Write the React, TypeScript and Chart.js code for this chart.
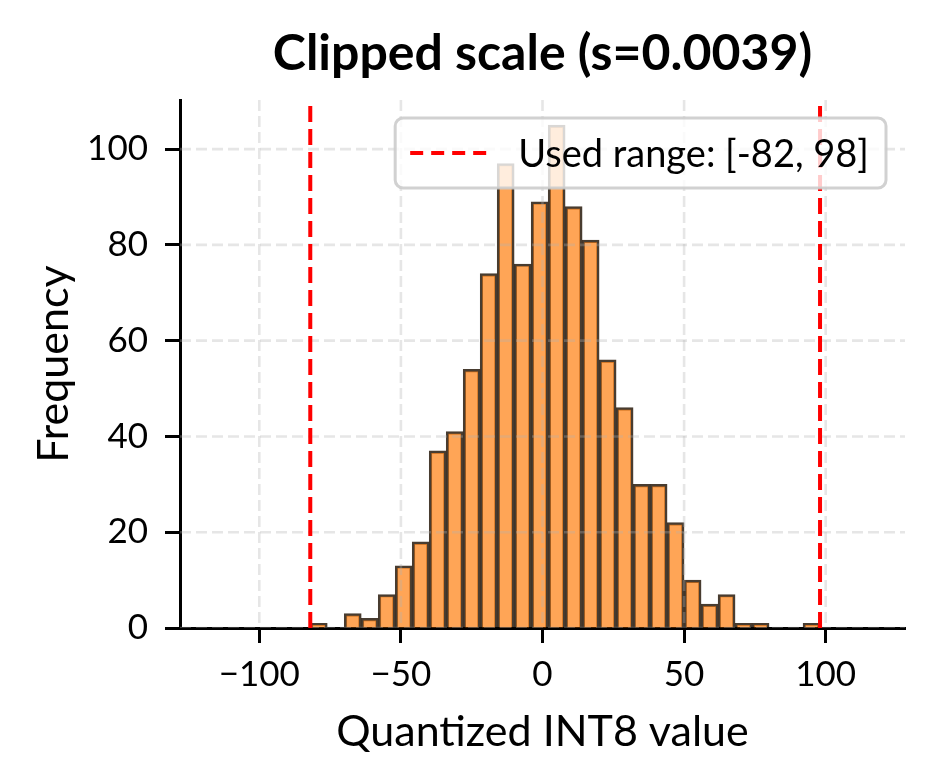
import React, { useEffect, useRef } from 'react';
import { Chart, registerables } from 'chart.js';

Chart.register(...registerables);

// ---- data ----
const binStarts = [-82, -76, -70, -64, -58, -52, -46, -40, -34, -28, -22, -16, -10, -4, 2, 8, 14, 20, 26, 32, 38, 44, 50, 56, 62, 68, 74, 80, 86, 92];
const binWidth = 6;
const counts = [1, 0, 3, 2, 7, 13, 18, 37, 41, 54, 74, 97, 76, 89, 105, 88, 81, 56, 46, 30, 30, 22, 10, 5, 7, 1, 1, 0, 0, 1];
const usedRange = [-82, 98];
const xTicks = [-100, -50, 0, 50, 100];
const yTicks = [0, 20, 40, 60, 80, 100];
const xLimits = [-128, 128];
const yLimits = [0, 110.25];
const titleText = 'Clipped scale (s=0.0039)';
const xLabel = 'Quantized INT8 value';
const yLabel = 'Frequency';
const legendLabel = `Used range: [${usedRange[0]}, ${usedRange[1]}]`;

const FONT = 'Lato';
const W = 934;
const H = 784;

const fmtTick = (v: number) => (v < 0 ? '\u2212' + Math.abs(v) : String(v));

const gridOverBars = {
  id: 'gridOverBars',
  afterDatasetDraw(chart: any, args: any) {
    if (args.meta.type !== 'bar') return;
    const { ctx, chartArea: a, scales } = chart;
    const x = scales.x;
    const y = scales.y;
    ctx.save();
    ctx.beginPath();
    ctx.rect(a.left, a.top, a.right - a.left, a.bottom - a.top);
    ctx.clip();
    ctx.strokeStyle = 'rgba(176,176,176,0.32)';
    ctx.lineWidth = 2.6;
    ctx.setLineDash([11, 5]);
    for (const v of yTicks) {
      const py = y.getPixelForValue(v);
      ctx.beginPath();
      ctx.moveTo(a.left, py);
      ctx.lineTo(a.right, py);
      ctx.stroke();
    }
    for (const v of xTicks) {
      const px = x.getPixelForValue(v);
      ctx.beginPath();
      ctx.moveTo(px, a.top);
      ctx.lineTo(px, a.bottom);
      ctx.stroke();
    }
    ctx.restore();
  },
};

const titleAndLegend = {
  id: 'titleAndLegend',
  afterDraw(chart: any) {
    const { ctx, chartArea: a } = chart;
    ctx.save();
    // title
    const tSize = 50;
    ctx.font = `bold ${tSize}px ${FONT}`;
    ctx.fillStyle = '#000';
    ctx.textAlign = 'center';
    ctx.textBaseline = 'alphabetic';
    ctx.fillText(titleText, (a.left + a.right) / 2, 52 + tSize * 0.36);

    // legend
    const lSize = 38;
    ctx.font = `${lSize}px ${FONT}`;
    const tw = ctx.measureText(legendLabel).width;
    const padL = 15;
    const handle = 77;
    const gap = 31;
    const padR = 17;
    const boxW = padL + handle + gap + tw + padR;
    const boxH = 70;
    const right = a.right - 19;
    const left = right - boxW;
    const top = a.top + 18;
    const r = 8;
    ctx.beginPath();
    ctx.moveTo(left + r, top);
    ctx.lineTo(right - r, top);
    ctx.arcTo(right, top, right, top + r, r);
    ctx.lineTo(right, top + boxH - r);
    ctx.arcTo(right, top + boxH, right - r, top + boxH, r);
    ctx.lineTo(left + r, top + boxH);
    ctx.arcTo(left, top + boxH, left, top + boxH - r, r);
    ctx.lineTo(left, top + r);
    ctx.arcTo(left, top, left + r, top, r);
    ctx.closePath();
    ctx.fillStyle = 'rgba(255,255,255,0.8)';
    ctx.fill();
    ctx.strokeStyle = 'rgba(204,204,204,0.9)';
    ctx.lineWidth = 3;
    ctx.stroke();

    const cy = top + boxH / 2;
    ctx.strokeStyle = 'red';
    ctx.lineWidth = 4;
    ctx.setLineDash([13, 8]);
    ctx.beginPath();
    ctx.moveTo(left + padL, cy);
    ctx.lineTo(left + padL + handle, cy);
    ctx.stroke();
    ctx.setLineDash([]);

    ctx.fillStyle = '#000';
    ctx.textAlign = 'left';
    ctx.textBaseline = 'alphabetic';
    ctx.fillText(legendLabel, left + padL + handle + gap, cy + lSize * 0.36);
    ctx.restore();
  },
};

export default function App() {
  const ref = useRef<HTMLCanvasElement | null>(null);

  useEffect(() => {
    if (!ref.current) return;
    const tickFont = { family: FONT, size: 35 };
    const titleFont = { family: FONT, size: 43, lineHeight: 1 };

    const chart = new Chart(ref.current, {
      type: 'bar',
      data: {
        datasets: [
          ...usedRange.map((v, i) => ({
            type: 'line' as const,
            label: i === 0 ? legendLabel : '',
            data: [
              { x: v, y: yLimits[0] },
              { x: v, y: yLimits[1] },
            ],
            borderColor: 'rgb(255,0,0)',
            borderWidth: 4,
            borderDash: [16, 7],
            pointRadius: 0,
            fill: false,
            order: 1,
          })),
          {
            type: 'bar' as const,
            label: 'hist',
            data: binStarts.map((s, i) => ({ x: s + binWidth / 2, y: counts[i] })),
            backgroundColor: 'rgba(255,127,14,0.7)',
            borderColor: 'rgba(40,26,12,0.85)',
            borderWidth: 2.5,
            barPercentage: 1,
            categoryPercentage: 1,
            order: 2,
          },
        ],
      } as any,
      options: {
        responsive: false,
        animation: false,
        layout: { padding: { top: 100, right: 29, bottom: 0, left: 0 } },
        plugins: {
          legend: { display: false },
          tooltip: { enabled: false },
          title: { display: false },
        },
        scales: {
          x: {
            type: 'linear',
            min: xLimits[0],
            max: xLimits[1],
            offset: false,
            afterBuildTicks: (s: any) => {
              s.ticks = xTicks.map((v) => ({ value: v }));
            },
            afterFit: (s: any) => {
              s.height = 156;
            },
            ticks: {
              autoSkip: false,
              maxRotation: 0,
              minRotation: 0,
              color: '#000',
              font: tickFont,
              padding: 11,
              callback: (v: any) => fmtTick(Number(v)),
            },
            grid: {
              display: true,
              drawOnChartArea: false,
              drawTicks: true,
              tickLength: 15,
              tickWidth: 3,
              tickColor: '#000',
              offset: false,
            },
            border: { display: true, color: '#000', width: 3 },
            title: {
              display: true,
              text: xLabel,
              color: '#000',
              font: titleFont,
              padding: { top: 0, bottom: 30 },
            },
          },
          y: {
            type: 'linear',
            min: yLimits[0],
            max: yLimits[1],
            afterBuildTicks: (s: any) => {
              s.ticks = yTicks.map((v) => ({ value: v }));
            },
            afterFit: (s: any) => {
              s.width = 180;
            },
            ticks: {
              autoSkip: false,
              color: '#000',
              font: tickFont,
              padding: 17,
              callback: (v: any) => fmtTick(Number(v)),
            },
            grid: {
              display: true,
              drawOnChartArea: false,
              drawTicks: true,
              tickLength: 15,
              tickWidth: 3,
              tickColor: '#000',
            },
            border: { display: true, color: '#000', width: 3 },
            title: {
              display: true,
              text: yLabel,
              color: '#000',
              font: titleFont,
              padding: { top: 33, bottom: 0 },
            },
          },
        },
      } as any,
      plugins: [gridOverBars, titleAndLegend],
    });
    return () => chart.destroy();
  }, []);

  return (
    <div style={{ position: 'fixed', left: 0, top: 0, width: W, height: H, background: '#fff' }}>
      <canvas ref={ref} width={W} height={H} style={{ width: W, height: H, display: 'block' }} />
    </div>
  );
}
